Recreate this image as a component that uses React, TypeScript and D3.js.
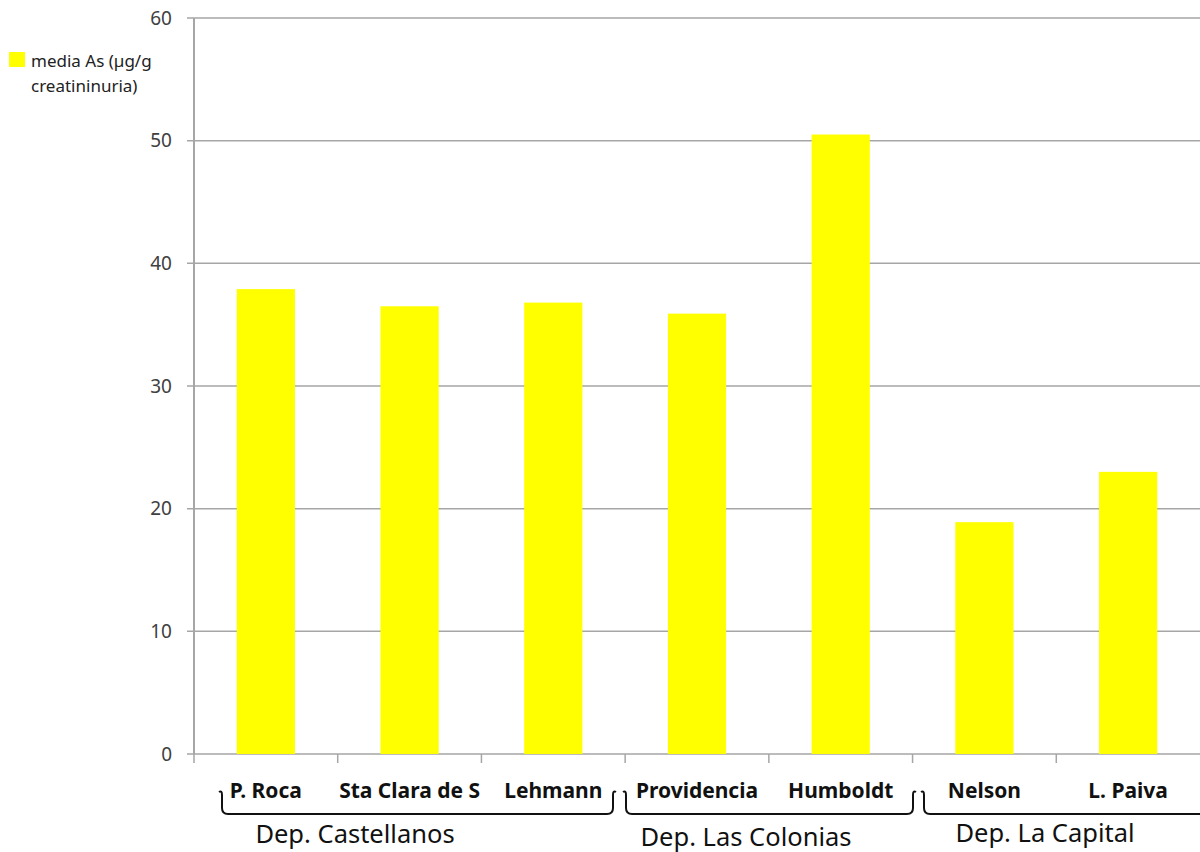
import React from "react";
import { scaleBand, scaleLinear } from "d3";

const categories = ["P. Roca", "Sta Clara de S", "Lehmann", "Providencia", "Humboldt", "Nelson", "L. Paiva"];
const values = [37.9, 36.5, 36.8, 35.9, 50.5, 18.9, 23.0];
const yTicks = [0, 10, 20, 30, 40, 50, 60];
const groups = ["Dep. Castellanos", "Dep. Las Colonias", "Dep. La Capital"];
const legendLines = ["media As (µg/g", "creatininuria)"];

const width = 1200;
const height = 852;
const margin = { top: 18, right: 0, bottom: 98, left: 194 };
const innerWidth = width - margin.left - margin.right;
const innerHeight = height - margin.top - margin.bottom;

const x = scaleBand<string>().domain(categories).range([0, innerWidth]);
const y = scaleLinear().domain([0, 60]).range([innerHeight, 0]);
const barW = x.bandwidth() * 0.405;

const font = "Noto Sans, DejaVu Sans, sans-serif";

// bracket under a group of categories, left/right in inner coords
function bracket(l: number, r: number, top: number, bot: number) {
  const rad = 6;
  return `M${l - 3},${top + 2} Q${l},${top} ${l},${top + 5} L${l},${bot - rad} Q${l},${bot} ${l + rad},${bot} L${r - rad},${bot} Q${r},${bot} ${r},${bot - rad} L${r},${top + 5} Q${r},${top} ${r + 3},${top + 2}`;
}

const bracketSpans: [number, number][] = [
  [28, 419],
  [432, 719],
  [730, 1040],
];
// department label placement (inner x of the centre, baseline offset)
const groupLabelX = [161, 552, 851];
const groupLabelDy = [89, 92, 88];

export default function App() {
  return (
    <svg
      width={width}
      height={height}
      viewBox={`0 0 ${width} ${height}`}
      style={{ position: "absolute", left: 0, top: 0, background: "#fff" }}
    >
      <g transform={`translate(${margin.left}, ${margin.top})`}>
        {yTicks.map((t) => (
          <g key={t} transform={`translate(0, ${y(t)})`}>
            <line x1={-7} x2={innerWidth} stroke="#a6a6a6" strokeWidth={1.5} />
            <text x={-22} dy="0.35em" textAnchor="end" fontFamily={font} fontSize={19} fill="#404040">
              {t}
            </text>
          </g>
        ))}
        <line x1={0} x2={0} y1={0} y2={innerHeight} stroke="#a6a6a6" strokeWidth={2} />
        {categories.map((c) => (
          <line
            key={"t" + c}
            x1={x(c)!}
            x2={x(c)!}
            y1={innerHeight}
            y2={innerHeight + 9}
            stroke="#a6a6a6"
            strokeWidth={1.5}
          />
        ))}
        {categories.map((c, i) => (
          <rect
            key={c}
            x={x(c)! + x.bandwidth() / 2 - barW / 2}
            y={y(values[i])}
            width={barW}
            height={innerHeight - y(values[i])}
            fill="#ffff00"
          />
        ))}
        {categories.map((c) => (
          <text
            key={"l" + c}
            x={x(c)! + x.bandwidth() / 2}
            y={innerHeight + 44}
            textAnchor="middle"
            fontFamily={font}
            fontWeight="bold"
            fontSize={21}
            fill="#111"
          >
            {c}
          </text>
        ))}
        {groups.map((g, i) => {
          const [l, r] = bracketSpans[i];
          return (
            <g key={g}>
              <path d={bracket(l, r, innerHeight + 36, innerHeight + 60)} fill="none" stroke="#111" strokeWidth={2} />
              <text
                x={groupLabelX[i]}
                y={innerHeight + groupLabelDy[i]}
                textAnchor="middle"
                fontFamily={font}
                fontSize={25.5}
                fill="#111"
              >
                {g}
              </text>
            </g>
          );
        })}
      </g>
      <rect x={9} y={52} width={16} height={15} fill="#ffff00" />
      {legendLines.map((t, i) => (
        <text key={t} x={31} y={67 + i * 25} fontFamily={font} fontSize={17} fill="#222">
          {t}
        </text>
      ))}
    </svg>
  );
}
